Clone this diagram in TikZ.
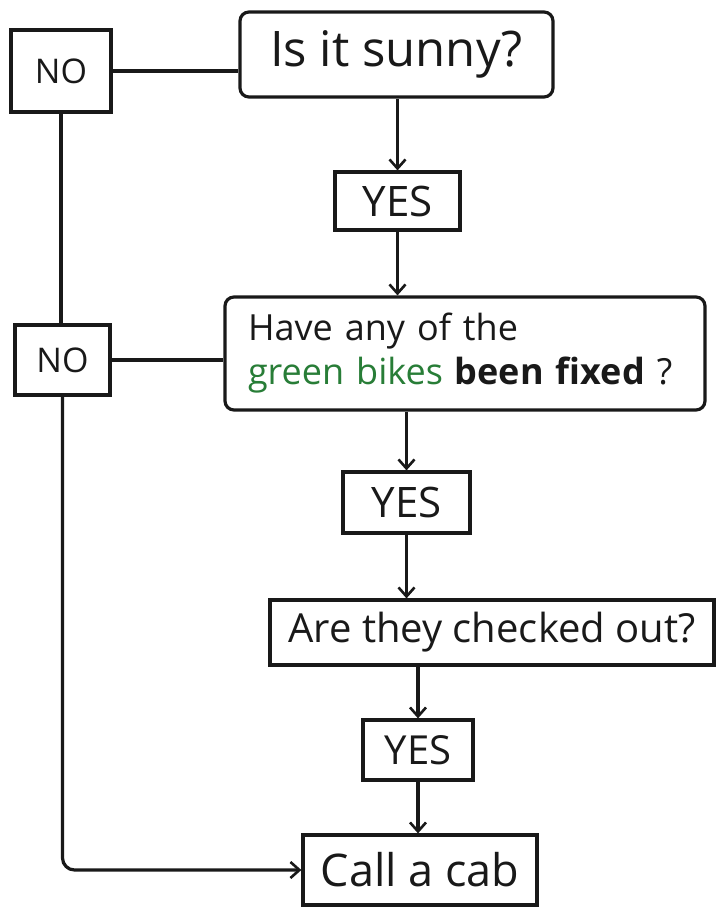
\documentclass[tikz,border=0pt]{standalone}
\usepackage{fontspec}
\setmainfont{Open Sans}
\usetikzlibrary{arrows.meta}
\definecolor{inkgreen}{RGB}{40,125,55}
\definecolor{ink}{RGB}{25,25,25}
\tikzset{
  box/.style={draw=ink, line width=3.2pt, inner sep=0pt, text=ink, align=center},
  qbox/.style={box, rounded corners=9pt},
  conn/.style={draw=ink, line width=3.2pt},
  arr/.style={conn, -{Straight Barb[length=9pt,width=16pt,line width=2.6pt]}},
}
\begin{document}
\begin{tikzpicture}[x=1pt,y=-1pt]
\useasboundingbox[fill=white] (0,0) rectangle (717,909);
% nodes
\node[box, minimum width=100pt, minimum height=82pt, font=\fontsize{34}{38}\selectfont] (no1) at (61,71) {NO};
\node[qbox, minimum width=313pt, minimum height=85pt, font=\fontsize{49}{54}\selectfont] (q1) at (396.5,54.5) {Is it sunny?};
\node[box, minimum width=125pt, minimum height=58pt, font=\fontsize{42}{46}\selectfont] (yes1) at (397.5,201) {YES};
\node[qbox, minimum width=480pt, minimum height=113pt, font=\fontsize{36}{44}\selectfont, align=left, text width=434pt] (q2) at (465,353.5)
  {Have any of the\\ \textcolor{inkgreen}{green bikes} \textbf{been fixed} ?};
\node[box, minimum width=95pt, minimum height=70pt, font=\fontsize{34}{38}\selectfont] (no2) at (62.5,360) {NO};
\node[box, minimum width=127pt, minimum height=61pt, font=\fontsize{42}{46}\selectfont] (yes2) at (406.5,502.5) {YES};
\node[box, minimum width=444pt, minimum height=65pt, font=\fontsize{40}{44}\selectfont] (q3) at (492,632.5) {Are they checked out?};
\node[box, minimum width=110pt, minimum height=60pt, font=\fontsize{40}{44}\selectfont] (yes3) at (418,750) {YES};
\node[box, minimum width=234pt, minimum height=70pt, font=\fontsize{45}{50}\selectfont] (call) at (420,870) {Call a cab};
% connectors
\draw[conn] (no1.east) -- (q1.west |- no1.east);
\draw[arr] (q1.south -| yes1.north) -- (yes1.north);
\draw[arr] (yes1.south) -- (yes1.south |- q2.north);
\draw[conn] (no2.east) -- (q2.west |- no2.east);
\draw[conn] (no1.south) -- (no1.south |- no2.north);
\draw[arr, rounded corners=12pt] (no2.south) |- (call.west);
\draw[arr] (yes2.north |- q2.south) -- (yes2.north);
\draw[arr] (yes2.south) -- (yes2.south |- q3.north);
\draw[arr] (yes3.north |- q3.south) -- (yes3.north);
\draw[arr] (yes3.south) -- (yes3.south |- call.north);
\end{tikzpicture}
\end{document}
